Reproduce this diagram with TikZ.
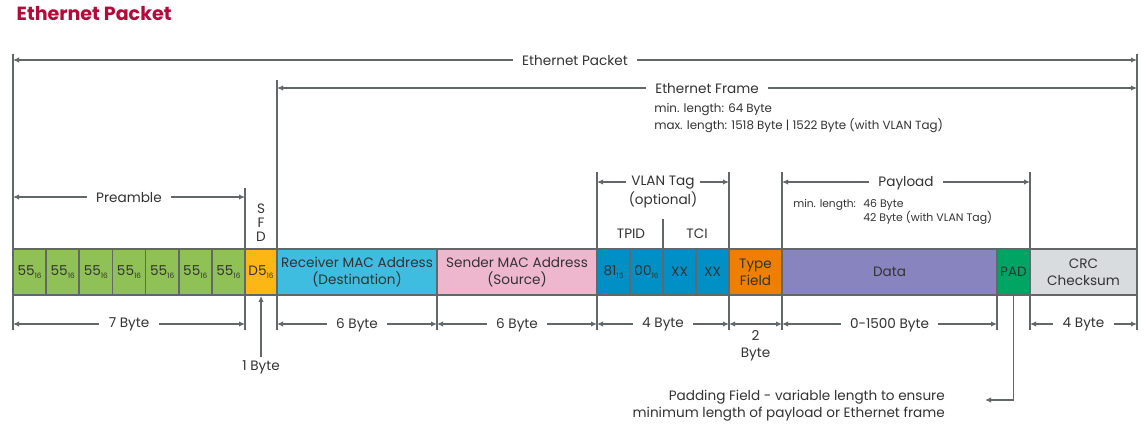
\documentclass[tikz,border=0pt]{standalone}
\usepackage{fontspec}
\setmainfont{Poppins}
\usetikzlibrary{arrows.meta}

\definecolor{linegray}{HTML}{62676A}
\definecolor{textgray}{HTML}{333333}
\definecolor{titlered}{HTML}{B5093A}
\definecolor{pregreen}{HTML}{8FC156}
\definecolor{sfdyellow}{HTML}{FDB714}
\definecolor{maccyan}{HTML}{3FBDE0}
\definecolor{macpink}{HTML}{EEB7CD}
\definecolor{vlanblue}{HTML}{0090C6}
\definecolor{typeorange}{HTML}{EE7F00}
\definecolor{datapurple}{HTML}{8884C0}
\definecolor{padgreen}{HTML}{00A564}
\definecolor{crcgray}{HTML}{D9DCDE}

\newcommand{\hexval}[2]{#1\raisebox{-0.45ex}{\fontsize{5.5}{5.5}\selectfont #2}}

\tikzset{
  field/.style={draw=linegray, line width=1.3pt, minimum width=#1*0.75pt,
    minimum height=46*0.75pt, inner sep=0pt, text=textgray, align=center,
    font=\fontsize{10.2}{12.8}\selectfont},
  guide/.style={draw=linegray, line width=1.3pt},
  dim/.style={draw=linegray, line width=1.3pt, {Latex[length=4.5pt,width=4pt]}-{Latex[length=4.5pt,width=4pt]}},
  dimlabel/.style={fill=white, inner xsep=7pt, inner ysep=1pt, text=textgray, yshift=-0.6pt},
  note/.style={text=textgray, inner sep=0pt}
}

\begin{document}
\begin{tikzpicture}[x=0.75pt, y=-0.75pt, font=\fontsize{10.2}{12.8}\selectfont]
  \useasboundingbox (0,0) rectangle (1148,428);

  % title
  \node[anchor=west, text=titlered, font=\fontsize{14.3}{16}\selectfont\bfseries] (title) at (12,14) {Ethernet Packet};

  % vertical guide lines
  \draw[guide] (13,54) -- (13,330);
  \draw[guide] (1137,54) -- (1137,330);
  \draw[guide] (277,80) -- (277,330);
  \draw[guide] (245,188) -- (245,330);
  \draw[guide] (597,172) -- (597,330);
  \draw[guide] (729,172) -- (729,330);
  \draw[guide] (782,172) -- (782,330);
  \draw[guide] (1030,172) -- (1030,330);
  \draw[guide] (437,295) -- (437,330);
  \draw[guide] (997,295) -- (997,330);
  \draw[guide] (663,219) -- (663,249);

  % fields
  \foreach \i in {1,...,7}
    \node[field=33.14, fill=pregreen] (pre\i) at ({13+33.143*(\i-0.5)},272) {\hexval{55}{16}};
  \node[field=32, fill=sfdyellow] (sfd) at (261,272) {\hexval{D5}{16}};
  \node[field=160, fill=maccyan] (dest) at (357,272) {Receiver MAC Address\\(Destination)};
  \node[field=160, fill=macpink] (src) at (517,272) {Sender MAC Address\\(Source)};
  \node[field=33, fill=vlanblue] (tpida) at (613.5,272) {\hexval{81}{16}};
  \node[field=33, fill=vlanblue] (tpidb) at (646.5,272) {\hexval{00}{16}};
  \node[field=33, fill=vlanblue] (tcia) at (679.5,272) {XX};
  \node[field=33, fill=vlanblue] (tcib) at (712.5,272) {XX};
  \node[field=53, fill=typeorange] (type) at (755.5,272) {Type\\Field};
  \node[field=215, fill=datapurple] (data) at (889.5,272) {Data};
  \node[field=33, fill=padgreen] (pad) at (1013.5,272) {PAD};
  \node[field=107, fill=crcgray] (crc) at (1083.5,272) {CRC\\Checksum};

  % upper dimensions
  \draw[dim] (13,60) -- node[dimlabel] (pktlbl) {Ethernet Packet} (1137,60);
  \draw[dim] (277,88) -- node[dimlabel] (frmlbl) {Ethernet Frame} (1137,88);
  \node[note, anchor=west, align=left, font=\fontsize{8.9}{12.75}\selectfont] (frmnote) at (654,118)
    {min. length: 64 Byte\\max. length: 1518 Byte | 1522 Byte (with VLAN Tag)};
  \draw[dim] (13,197) -- node[dimlabel] (prelbl) {Preamble} (245,197);
  \node[note, align=center, font=\fontsize{10.2}{10.5}\selectfont] (sfdlbl) at (261,223) {S\\F\\D};
  \draw[dim] (597,182) -- node[dimlabel, inner xsep=4pt] (vlanlbl) {VLAN Tag} (729,182);
  \node[note] (optlbl) at (663,200) {(optional)};
  \node[note] (tpidlbl) at (631,234) {TPID};
  \node[note] (tcilbl) at (697,234) {TCI};
  \draw[dim] (782,182) -- node[dimlabel] (paylbl) {Payload} (1030,182);
  \node[note, anchor=west, font=\fontsize{8}{10}\selectfont] (paymin) at (793,205) {min. length:};
  \node[note, anchor=west, align=left, font=\fontsize{8.2}{10.5}\selectfont] (paynote) at (863,212)
    {46 Byte\\42 Byte (with VLAN Tag)};

  % lower dimensions
  \draw[dim] (13,324) -- node[dimlabel] (len7) {7 Byte} (245,324);
  \draw[dim] (277,324) -- node[dimlabel] (len6a) {6 Byte} (437,324);
  \draw[dim] (437,324) -- node[dimlabel] (len6b) {6 Byte} (597,324);
  \draw[dim] (597,324) -- node[dimlabel] (len4a) {4 Byte} (729,324);
  \draw[dim] (729,324) -- (782,324);
  \node[note, align=center] (len2) at (755.5,346) {2\\Byte};
  \draw[dim] (782,324) -- node[dimlabel] (len1500) {0-1500 Byte} (997,324);
  \draw[dim] (1030,324) -- node[dimlabel] (len4b) {4 Byte} (1137,324);

  % SFD length
  \node[note] (len1) at (261,367) {1 Byte};
  \draw[guide, -{Latex[length=4.5pt,width=4pt]}] (len1.north) ++(0,-3) -- (sfd.south);

  % padding note
  \node[note, anchor=east, align=right] (padnote) at (945,406)
    {Padding Field - variable length to ensure\\minimum length of payload or Ethernet frame};
  \coordinate (padend) at (985,400);
  \draw[guide, -{Latex[length=4.5pt,width=4pt]}] (pad.south) |- (padend);
\end{tikzpicture}
\end{document}
